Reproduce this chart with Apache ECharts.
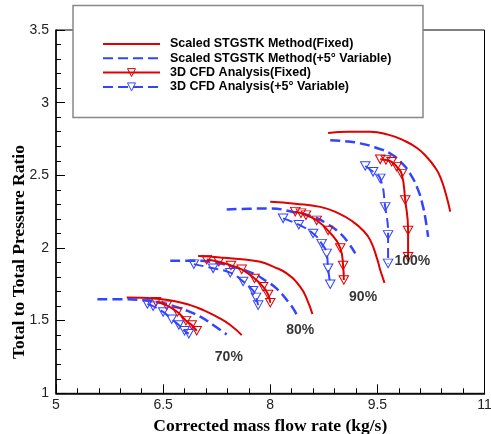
<!DOCTYPE html>
<html><head><meta charset="utf-8">
<script src="https://cdn.jsdelivr.net/npm/echarts@6/dist/echarts.min.js"></script>
<style>html,body{margin:0;padding:0;background:#fff}#c{width:491px;height:434px}</style>
</head><body><div id="c"></div>
<script>
// ---- data ----
const seriesNames = ['Scaled STGSTK Method(Fixed)','Scaled STGSTK Method(+5\u00B0 Variable)','3D CFD Analysis(Fixed)','3D CFD Analysis(+5\u00B0 Variable)'];
const speedLabels = ['70%','80%','90%','100%'];
const speedLabelPos = [[7.42,1.25],[8.42,1.436],[9.30,1.663],[9.99,1.91]];
const xTitle = 'Corrected mass flow rate (kg/s)';
const yTitle = 'Total to Total Pressure Ratio';

const stgFixed70 = [[5.99,1.66],[6.2,1.658],[6.41,1.65],[6.65,1.635],[6.88,1.607],[7.05,1.575],[7.25,1.527],[7.44,1.47],[7.60,1.40]];
const stgFixed80 = [[6.99,1.944],[7.3,1.935],[7.6,1.922],[7.86,1.905],[8.05,1.87],[8.23,1.825],[8.42,1.733],[8.52,1.64],[8.59,1.545]];
const stgFixed90 = [[8.0,2.318],[8.35,2.305],[8.70,2.283],[8.95,2.24],[9.16,2.18],[9.30,2.12],[9.40,2.054],[9.50,1.92],[9.54,1.848],[9.60,1.76]];
const stgFixed100 = [[8.81,2.792],[9.1,2.80],[9.40,2.80],[9.65,2.78],[9.86,2.742],[10.05,2.69],[10.19,2.627],[10.30,2.56],[10.38,2.49],[10.46,2.37],[10.52,2.25]];

const stgVar70 = [[5.58,1.648],[5.9,1.647],[6.18,1.642],[6.45,1.625],[6.65,1.60],[6.85,1.565],[7.02,1.527],[7.2,1.47],[7.39,1.405]];
const stgVar80 = [[6.60,1.912],[6.9,1.912],[7.16,1.905],[7.45,1.875],[7.76,1.825],[7.95,1.77],[8.09,1.72],[8.25,1.63],[8.35,1.56],[8.38,1.52]];
const stgVar90 = [[7.39,2.265],[7.7,2.27],[8.0,2.272],[8.3,2.25],[8.60,2.215],[8.80,2.165],[8.98,2.10],[9.10,2.03],[9.19,1.963]];
const stgVar100 = [[8.84,2.742],[9.05,2.735],[9.26,2.72],[9.48,2.69],[9.68,2.65],[9.85,2.58],[9.96,2.51],[10.07,2.40],[10.14,2.283],[10.18,2.18],[10.21,2.077]];

const cfdFixed70 = [[6.40,1.63],[6.55,1.605],[6.70,1.56],[6.82,1.50],[6.90,1.47],[6.97,1.43]];
const cfdFixed80 = [[7.11,1.92],[7.28,1.905],[7.45,1.88],[7.60,1.853],[7.78,1.79],[7.90,1.733],[7.97,1.68],[8.0,1.623]];
const cfdFixed90 = [[8.35,2.25],[8.43,2.24],[8.50,2.226],[8.65,2.19],[8.81,2.12],[8.98,2.0],[9.02,1.88],[9.03,1.78]];
const cfdFixed100 = [[9.54,2.61],[9.62,2.605],[9.70,2.593],[9.77,2.56],[9.84,2.51],[9.89,2.33],[9.93,2.12],[9.93,1.94]];

const cfdVar70 = [[6.28,1.615],[6.36,1.60],[6.50,1.56],[6.62,1.51],[6.72,1.47],[6.80,1.43],[6.86,1.41]];
const cfdVar80 = [[6.93,1.889],[7.2,1.86],[7.44,1.83],[7.62,1.77],[7.76,1.706],[7.80,1.66],[7.83,1.607]];
const cfdVar90 = [[8.18,2.204],[8.40,2.16],[8.60,2.10],[8.72,2.03],[8.79,1.963],[8.81,1.86],[8.84,1.75]];
const cfdVar100 = [[9.33,2.564],[9.44,2.524],[9.54,2.479],[9.61,2.283],[9.65,2.09],[9.65,1.894]];

const xTicks = {min:5, max:11, interval:1.5};
const yTicks = {min:1, max:3.5, interval:0.5};

// ---- styles ----
const RED = '#e00000', BLUE = '#3344ff';
const tri = 'path://M0,0 L10,0 L5,9 Z';
const DASH = [10,5];
const CLEAR = 'rgba(255,255,255,0)';

function stg(name, data, color, dashed){
  return {name, type:'line', data, smooth:true, symbol:'none', z:3,
    lineStyle:{color, width: dashed?2.5:2, type: dashed?DASH:'solid'},
    itemStyle:{color}};
}
function cfd(name, data, color, dashed){
  return {name, type:'line', data, smooth:true, symbol:tri, symbolSize:[9.5,8.5], showSymbol:true, z:4,
    lineStyle:{color, width:2, type: dashed?DASH:'solid'},
    itemStyle:{color:CLEAR, borderColor:color, borderWidth:1}};
}

const series = [];
[stgFixed70,stgFixed80,stgFixed90,stgFixed100].forEach(d=>series.push(stg(seriesNames[0], d, RED, false)));
[stgVar70,stgVar80,stgVar90,stgVar100].forEach(d=>series.push(stg(seriesNames[1], d, BLUE, true)));
[cfdFixed70,cfdFixed80,cfdFixed90,cfdFixed100].forEach(d=>series.push(cfd(seriesNames[2], d, RED, false)));
[cfdVar70,cfdVar80,cfdVar90,cfdVar100].forEach(d=>series.push(cfd(seriesNames[3], d, BLUE, true)));
series.push({type:'scatter', symbolSize:0, silent:true, z:5,
  data: speedLabelPos.map((p,i)=>({value:p, name:speedLabels[i]})),
  label:{show:true, position:'inside', formatter:'{b}', color:'#000', fontFamily:'Liberation Sans', fontWeight:'bold', fontSize:14}});

const chart = echarts.init(document.getElementById('c'), null, {renderer:'canvas'});
chart.setOption({
  animation:false,
  backgroundColor:'#fff',
  grid:{left:56, top:30, right:6.5, bottom:40.7, outerBoundsMode:'none', containLabel:false,
    show:true, borderColor:'#000', borderWidth:1, backgroundColor:'transparent', z:1},
  legend:{orient:'vertical', left:102, top:37, padding:0, itemWidth:57, itemHeight:10, itemGap:0.3, z:10,
    data:[
      {name:seriesNames[0], itemStyle:{opacity:0}},
      {name:seriesNames[1], itemStyle:{opacity:0}},
      {name:seriesNames[2], itemStyle:{color:CLEAR, borderColor:RED, borderWidth:1}},
      {name:seriesNames[3], itemStyle:{color:CLEAR, borderColor:BLUE, borderWidth:1}}],
    textStyle:{fontFamily:'Liberation Sans', fontWeight:'bold', fontSize:12.5, color:'#000', lineHeight:14, padding:[0,0,0,5]}},
  graphic:[
    {type:'rect', z:8, shape:{x:73, y:5.5, width:350, height:112}, style:{fill:'#fff', stroke:'#888', lineWidth:1.5}},
    {type:'text', z:8, x:19, y:252, rotation:Math.PI/2,
      style:{text:yTitle, fontFamily:'Liberation Serif', fontWeight:'bold', fontSize:17.5, fill:'#000', align:'center', verticalAlign:'middle'}}
  ],
  xAxis:{type:'value', min:xTicks.min, max:xTicks.max, interval:xTicks.interval,
    name:xTitle, nameLocation:'middle', nameGap:13,
    nameTextStyle:{fontFamily:'Liberation Serif', fontWeight:'bold', fontSize:17.5, color:'#000'},
    axisLine:{lineStyle:{color:'#000', width:1.5}},
    axisTick:{inside:true, length:9, lineStyle:{color:'#000'}},
    minorTick:{show:true, splitNumber:5, length:5, lineStyle:{color:'#000'}},
    splitLine:{show:false},
    axisLabel:{fontFamily:'Liberation Sans', fontSize:14, color:'#222', margin:5}},
  yAxis:{type:'value', min:yTicks.min, max:yTicks.max, interval:yTicks.interval,
    axisLine:{lineStyle:{color:'#000', width:1.5}},
    axisTick:{inside:true, length:9, lineStyle:{color:'#000'}},
    minorTick:{show:true, splitNumber:5, length:5, lineStyle:{color:'#000'}},
    splitLine:{show:false},
    axisLabel:{fontFamily:'Liberation Sans', fontSize:14, color:'#222', margin:7}},
  series
});
</script></body></html>
